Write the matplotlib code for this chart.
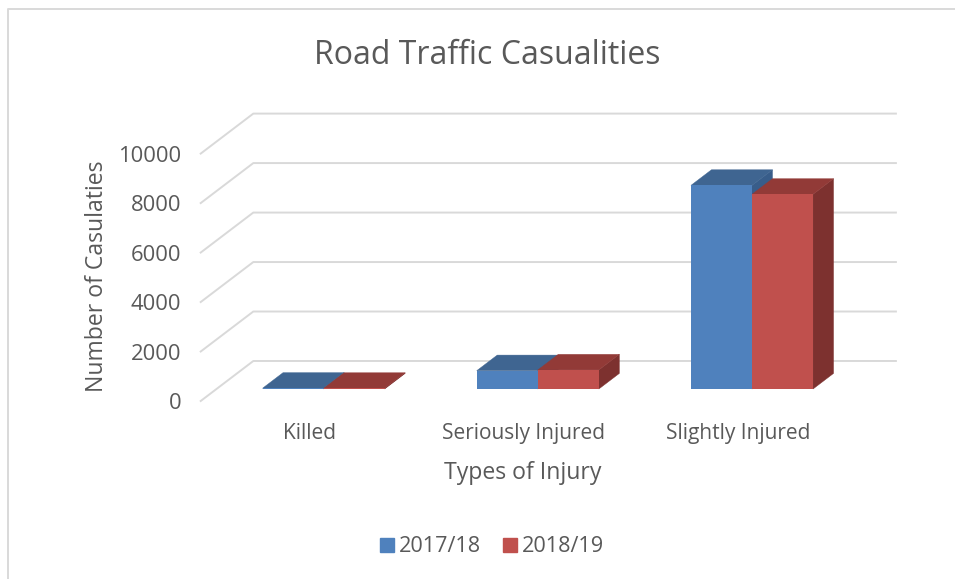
import matplotlib
matplotlib.use("Agg")
import matplotlib.pyplot as plt
from matplotlib.lines import Line2D
from matplotlib.patches import Patch

plt.rcParams['font.family'] = ['Open Sans', 'DejaVu Sans']

categories = ['Killed', 'Seriously Injured', 'Slightly Injured']
series_names = ['2017/18', '2018/19']
values_2017 = [30, 740, 8230]
values_2018 = [25, 770, 7870]
y_ticks = [0, 2000, 4000, 6000, 8000, 10000]

TEXT = '#595959'
GRID = '#d9d9d9'
FRONT = ['#4f81bd', '#c0504d']
TOP = ['#3f6591', '#923a37']
SIDE = ['#385d8a', '#7d312f']

W, H = 955, 579
# one unit of depth, in data units (wall runs from depth 0 to 1)
DEPTH_X = 0.2456
DEPTH_Y = 1617
BAR_D0 = 0.30
BAR_D1 = 0.69
BAR_W = 0.285


def project(x, v, d):
    return x + d * DEPTH_X, v + d * DEPTH_Y


def draw_bar(ax, x, val, i):
    bx, by = project(x, 0, BAR_D0)
    corners_top = [project(x, val, BAR_D0), project(x + BAR_W, val, BAR_D0),
                   project(x + BAR_W, val, BAR_D1), project(x, val, BAR_D1)]
    corners_side = [project(x + BAR_W, 0, BAR_D0), project(x + BAR_W, val, BAR_D0),
                    project(x + BAR_W, val, BAR_D1), project(x + BAR_W, 0, BAR_D1)]
    ax.fill(*zip(*corners_side), color=SIDE[i], lw=0.3, zorder=3, clip_on=False)
    ax.fill(*zip(*corners_top), color=TOP[i], lw=0.3, zorder=3, clip_on=False)
    ax.bar(bx, val, BAR_W, bottom=by, align='edge', color=FRONT[i], zorder=3, clip_on=False)


fig = plt.figure(figsize=(W / 100, H / 100), dpi=100)
ax = fig.add_axes([200.7 / W, 1 - 401 / H, 642.6 / W, 247.4 / H])
ax.set_xlim(0, 3)
ax.set_ylim(0, 10000)
for s in ax.spines.values():
    s.set_visible(False)
ax.patch.set_visible(False)

# gridlines: side wall then back wall
for v in y_ticks:
    x0, y0 = project(0, v, 0)
    x1, y1 = project(0, v, 1)
    x2, y2 = project(3, v, 1)
    ax.plot([x0, x1, x2], [y0, y1, y2], color=GRID, lw=1.4, zorder=1, clip_on=False)

for c in range(len(categories)):
    draw_bar(ax, c + 0.5 - BAR_W, values_2017[c], 0)
    draw_bar(ax, c + 0.5, values_2018[c], 1)

ax.set_yticks(y_ticks)
ax.set_yticklabels([str(v) for v in y_ticks], fontsize=15.8, color=TEXT)
ax.set_xticks([c + 0.507 for c in range(3)])
ax.set_xticklabels(categories, fontsize=15, color=TEXT)
ax.tick_params(axis='y', length=0, pad=14)
ax.tick_params(axis='x', length=0, pad=16)

fig.text(487 / W, 1 - 56 / H, 'Road Traffic Casualities', fontsize=23, color=TEXT, ha='center', va='center')
fig.text(97 / W, 1 - 276 / H, 'Number of Casulaties', fontsize=16.6, color=TEXT, rotation=90, ha='center', va='center')
fig.text(523 / W, 1 - 473 / H, 'Types of Injury', fontsize=16.6, color=TEXT, ha='center', va='center')

handles = [Patch(color=FRONT[i], label=series_names[i]) for i in range(2)]
fig.legend(handles=handles, loc='center', bbox_to_anchor=(492 / W, 1 - 547 / H), ncol=2, frameon=False,
           fontsize=15.6, labelcolor=TEXT, handlelength=0.65, handleheight=0.65, handletextpad=0.23,
           columnspacing=1.0, borderpad=0)

# outer chart frame
fig.add_artist(Line2D([7.5 / W, 7.5 / W, 1], [0, 1 - 8.5 / H, 1 - 8.5 / H], color=GRID, lw=1.4))

fig.savefig('out.png', dpi=100)
